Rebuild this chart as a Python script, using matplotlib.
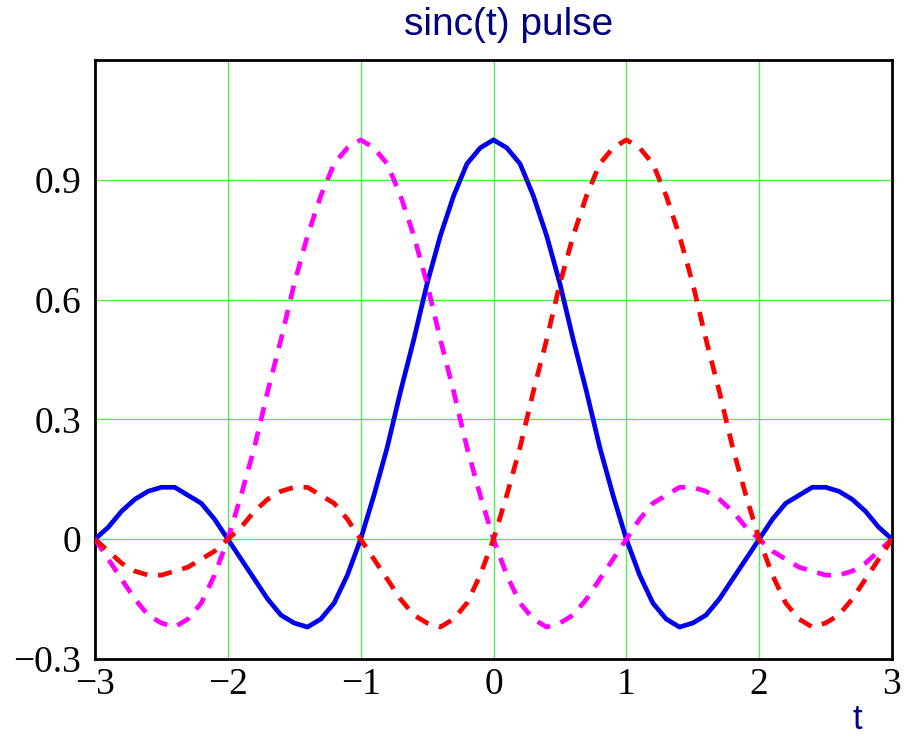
import matplotlib
matplotlib.use("Agg")
import matplotlib.pyplot as plt

t = [round(-3 + 0.1 * i, 1) for i in range(61)]

# sinc(t) (symmetric about 0)
half = [1.00, 0.98, 0.94, 0.86, 0.76, 0.64, 0.50, 0.37, 0.23, 0.11,
        0.00, -0.09, -0.16, -0.20, -0.22, -0.21, -0.19, -0.15, -0.10, -0.05,
        0.00, 0.05, 0.09, 0.11, 0.13, 0.13, 0.12, 0.10, 0.07, 0.03, 0.00]
blue = half[::-1] + half[1:]

# sinc(t-1): red dashed
red = [0.00, -0.03, -0.06, -0.08, -0.09, -0.09, -0.08, -0.07, -0.05, -0.03,
       0.00, 0.03, 0.07, 0.10, 0.12, 0.13, 0.13, 0.11, 0.09, 0.05,
       0.00, -0.05, -0.10, -0.15, -0.19, -0.21, -0.22, -0.20, -0.16, -0.09,
       0.00, 0.11, 0.23, 0.37, 0.50, 0.64, 0.76, 0.86, 0.94, 0.98,
       1.00, 0.98, 0.94, 0.86, 0.76, 0.64, 0.50, 0.37, 0.23, 0.11,
       0.00, -0.09, -0.16, -0.20, -0.22, -0.21, -0.19, -0.15, -0.10, -0.05,
       0.00]
# sinc(t+1): magenta dashed
magenta = red[::-1]

xticks = [-3, -2, -1, 0, 1, 2, 3]
xlabels = ["\u22123", "\u22122", "\u22121", "0", "1", "2", "3"]
yticks = [-0.3, 0, 0.3, 0.6, 0.9]
ylabels = ["\u22120.3", "0", "0.3", "0.6", "0.9"]

fig = plt.figure(figsize=(9.05, 7.37), dpi=100)
ax = fig.add_axes([95 / 905, 78 / 737, 797 / 905, 599 / 737])

ax.plot(t, blue, color="#0000ee", lw=3.4, zorder=3)
ax.plot(t, magenta, color="#ff00ff", lw=3.4, ls=(0, (3, 2.3)), zorder=4)
ax.plot(t, red, color="#ff0000", lw=3.4, ls=(0, (3, 2.3)), zorder=5)

ax.set_xlim(-3, 3)
ax.set_ylim(-0.3, 1.2)
ax.set_xticks(xticks)
ax.set_xticklabels(xlabels)
ax.set_yticks(yticks)
ax.set_yticklabels(ylabels)
ax.tick_params(length=0, labelsize=27)
ax.tick_params(axis="x", pad=6)
ax.tick_params(axis="y", pad=10)
for lab in ax.get_xticklabels() + ax.get_yticklabels():
    lab.set_family("Liberation Serif")
ax.grid(True, color="#55ee55", lw=1.0, zorder=1)
for s in ax.spines.values():
    s.set_linewidth(2)
    s.set_color("black")

fig.text(509 / 905, 1 - 35 / 737, "sinc(t) pulse", ha="center", va="baseline",
         fontsize=28, color="#000080", family="Liberation Sans")
fig.text(857 / 905, 1 - 729 / 737, "t", ha="center", va="baseline",
         fontsize=25, color="#000080", family="Liberation Sans")

fig.savefig("out.png", dpi=100)
